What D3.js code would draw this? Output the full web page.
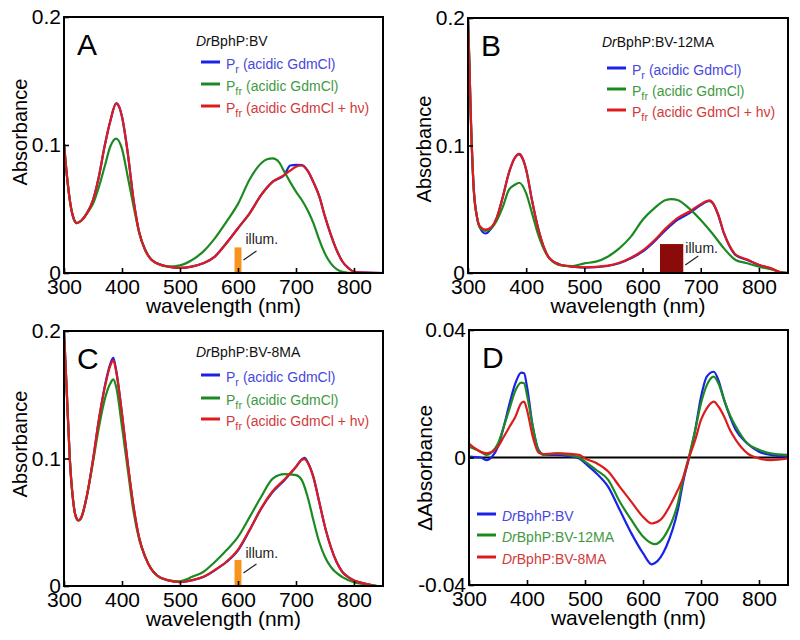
<!DOCTYPE html>
<html>
<head>
<meta charset="utf-8">
<script src="https://cdn.jsdelivr.net/npm/d3@7"></script>
<style>
  body { margin: 0; background: #fff; }
  svg { display: block; }
</style>
</head>
<body>
<div id="chart"></div>
<script>
// wavelength (nm), absorbance
const aPr = [[300,0.101],[305,0.076],[310,0.057],[315,0.045],[322,0.039],[330,0.041],[340,0.047],[350,0.057],[360,0.075],[370,0.099],[380,0.119],[390,0.1325],[395,0.130],[400,0.122],[410,0.0935],[420,0.057],[430,0.031],[440,0.018],[450,0.0107],[460,0.0076],[480,0.005],[500,0.004],[520,0.005],[540,0.0076],[560,0.0128],[575,0.0205],[600,0.035],[620,0.0466],[640,0.061],[660,0.0714],[680,0.0766],[690,0.084],[700,0.0845],[710,0.0843],[720,0.080],[730,0.071],[740,0.060],[750,0.044],[760,0.030],[770,0.018],[780,0.009],[790,0.004],[800,0.001],[820,0.0003],[850,0]];
const aPfr = [[300,0.101],[305,0.076],[310,0.057],[315,0.045],[322,0.039],[330,0.041],[340,0.047],[350,0.054],[360,0.067],[370,0.083],[380,0.099],[390,0.105],[400,0.097],[410,0.075],[420,0.052],[430,0.031],[440,0.018],[450,0.0107],[460,0.0076],[480,0.005],[500,0.006],[520,0.010],[540,0.0167],[560,0.027],[580,0.040],[600,0.054],[620,0.073],[640,0.0857],[650,0.0888],[660,0.0896],[670,0.087],[680,0.079],[690,0.071],[700,0.0635],[710,0.057],[720,0.049],[730,0.039],[740,0.026],[750,0.015],[760,0.0075],[770,0.003],[780,0.001],[800,0],[850,0]];
const aPfrHv = [[300,0.101],[305,0.076],[310,0.057],[315,0.045],[322,0.039],[330,0.041],[340,0.047],[350,0.057],[360,0.075],[370,0.099],[380,0.119],[390,0.1325],[395,0.130],[400,0.122],[410,0.0935],[420,0.057],[430,0.031],[440,0.018],[450,0.0107],[460,0.0076],[480,0.005],[500,0.004],[520,0.005],[540,0.0076],[560,0.0128],[575,0.0205],[600,0.035],[620,0.0466],[640,0.061],[660,0.0714],[680,0.0766],[690,0.080],[700,0.083],[710,0.084],[720,0.080],[730,0.071],[740,0.060],[750,0.044],[760,0.030],[770,0.018],[780,0.009],[790,0.004],[800,0.001],[820,0.0003],[850,0]];

const bPr = [[300,0.2],[302,0.17],[305,0.12],[310,0.065],[315,0.045],[320,0.036],[330,0.031],[340,0.035],[350,0.044],[360,0.060],[370,0.078],[380,0.090],[388,0.0933],[390,0.0925],[400,0.081],[410,0.057],[420,0.036],[430,0.0207],[440,0.0115],[460,0.0063],[480,0.005],[500,0.0042],[540,0.0055],[560,0.0076],[580,0.0115],[600,0.0167],[620,0.0246],[640,0.0337],[660,0.0416],[680,0.0468],[700,0.0533],[715,0.0565],[720,0.055],[730,0.0455],[740,0.031],[750,0.0207],[760,0.014],[780,0.0102],[800,0.0063],[820,0.0037],[840,0.0003],[850,0]];
const bPfr = [[300,0.2],[302,0.17],[305,0.12],[310,0.065],[315,0.045],[320,0.036],[330,0.033],[340,0.035],[350,0.0416],[360,0.052],[370,0.065],[380,0.069],[388,0.0708],[400,0.0625],[410,0.047],[420,0.031],[430,0.019],[440,0.0115],[460,0.006],[480,0.0055],[500,0.0076],[520,0.0089],[540,0.0128],[560,0.0193],[580,0.0285],[600,0.0416],[620,0.0507],[640,0.0573],[650,0.058],[660,0.0573],[680,0.0507],[700,0.0416],[720,0.031],[740,0.0193],[760,0.0102],[780,0.0076],[800,0.005],[820,0.003],[840,0.0005],[850,0]];
const bPfrHv = [[300,0.2],[302,0.17],[305,0.12],[310,0.065],[315,0.045],[320,0.037],[330,0.034],[340,0.036],[350,0.044],[360,0.060],[370,0.078],[380,0.090],[388,0.0935],[390,0.093],[400,0.081],[410,0.057],[420,0.036],[430,0.0207],[440,0.0115],[460,0.0063],[480,0.005],[500,0.0045],[540,0.0058],[560,0.008],[580,0.012],[600,0.0175],[620,0.0255],[640,0.035],[660,0.043],[680,0.048],[700,0.054],[715,0.057],[720,0.0555],[730,0.046],[740,0.031],[750,0.021],[760,0.0145],[780,0.0105],[800,0.0065],[820,0.0038],[840,0.0003],[850,0]];

const cPr = [[300,0.2],[305,0.15],[310,0.1],[315,0.07],[320,0.055],[325,0.0515],[330,0.054],[340,0.072],[350,0.099],[360,0.130],[370,0.156],[380,0.1745],[385,0.179],[390,0.169],[400,0.135],[410,0.096],[420,0.062],[430,0.037],[440,0.0228],[450,0.0136],[460,0.0084],[480,0.0044],[500,0.0031],[520,0.0044],[540,0.007],[560,0.0123],[580,0.0188],[600,0.028],[620,0.0437],[640,0.0607],[660,0.0738],[680,0.083],[700,0.0934],[710,0.0994],[715,0.1005],[720,0.0973],[730,0.0856],[740,0.066],[750,0.0463],[760,0.0306],[770,0.0188],[780,0.011],[790,0.007],[800,0.0044],[820,0.0018],[840,0],[850,0]];
const cPfr = [[300,0.2],[305,0.15],[310,0.1],[315,0.07],[320,0.055],[325,0.0515],[330,0.054],[340,0.072],[350,0.097],[360,0.124],[370,0.146],[380,0.159],[385,0.162],[390,0.156],[400,0.125],[410,0.091],[420,0.058],[430,0.036],[440,0.0228],[450,0.0136],[460,0.0084],[480,0.0044],[500,0.0037],[510,0.005],[520,0.007],[540,0.011],[560,0.0188],[580,0.028],[600,0.0385],[620,0.054],[640,0.070],[660,0.0843],[680,0.0877],[700,0.0869],[710,0.083],[720,0.070],[730,0.0515],[740,0.0345],[750,0.0228],[760,0.015],[780,0.007],[800,0.003],[820,0.0013],[840,0],[850,0]];
const cPfrHv = [[300,0.2],[305,0.15],[310,0.1],[315,0.07],[320,0.055],[325,0.0515],[330,0.054],[340,0.072],[350,0.099],[360,0.130],[370,0.155],[380,0.173],[385,0.177],[390,0.168],[400,0.135],[410,0.096],[420,0.062],[430,0.037],[440,0.0228],[450,0.0136],[460,0.0084],[480,0.0044],[500,0.0031],[520,0.0046],[540,0.0072],[560,0.0126],[580,0.019],[600,0.0285],[620,0.044],[640,0.061],[660,0.0745],[680,0.0835],[700,0.0935],[710,0.099],[715,0.0995],[720,0.0968],[730,0.0852],[740,0.066],[750,0.0463],[760,0.0306],[770,0.0188],[780,0.011],[790,0.007],[800,0.0044],[820,0.0018],[840,0],[850,0]];

const dBV = [[300,0.0003],[320,0],[330,-0.0008],[340,0.0003],[350,0.0034],[360,0.0097],[370,0.017],[380,0.0233],[390,0.0266],[395,0.0264],[400,0.0222],[410,0.0097],[420,0.0024],[430,0.0008],[450,0.0008],[470,0.0005],[490,-0.0003],[500,-0.0018],[520,-0.005],[540,-0.0092],[560,-0.0165],[580,-0.0238],[600,-0.030],[615,-0.0335],[620,-0.0332],[640,-0.028],[660,-0.0165],[670,-0.007],[680,0.0003],[690,0.0086],[700,0.019],[710,0.0254],[722,0.0269],[730,0.0243],[740,0.018],[750,0.0128],[760,0.0086],[780,0.0044],[800,0.0018],[820,0.0008],[850,0.0003]];
const dBV12 = [[300,0.0034],[320,0.0018],[330,0.0008],[340,0.0018],[350,0.0044],[360,0.0097],[370,0.0154],[380,0.021],[390,0.0235],[395,0.0233],[400,0.0196],[410,0.0097],[420,0.0021],[430,0.0008],[450,0.0013],[470,0.0008],[490,0],[500,-0.0013],[520,-0.004],[540,-0.007],[560,-0.0139],[580,-0.0196],[600,-0.0248],[620,-0.0272],[640,-0.0238],[660,-0.0144],[670,-0.006],[680,0.0008],[690,0.0086],[700,0.017],[710,0.0227],[722,0.0254],[730,0.0233],[740,0.018],[750,0.0133],[760,0.0097],[780,0.0044],[800,0.0024],[820,0.0013],[850,0.0008]];
const dBV8 = [[300,0.0044],[310,0.0029],[330,0.0013],[340,0.0018],[350,0.0034],[360,0.0065],[370,0.0097],[380,0.0128],[390,0.017],[395,0.0175],[400,0.0149],[410,0.0065],[420,0.0015],[430,0.0011],[460,0.0013],[490,0.0008],[500,-0.0003],[520,-0.0018],[540,-0.0044],[560,-0.0092],[580,-0.0139],[600,-0.0186],[615,-0.0207],[630,-0.0196],[650,-0.0139],[660,-0.0102],[670,-0.006],[680,0.0003],[690,0.0055],[700,0.0118],[710,0.0154],[722,0.0175],[730,0.016],[740,0.0128],[750,0.0086],[760,0.0055],[780,0.0013],[800,-0.0003],[820,-0.0008],[850,-0.0003]];

const xTicks = [300, 400, 500, 600, 700, 800];
const absTicks = [0, 0.1, 0.2];
const diffTicks = [-0.04, 0, 0.04];
const stateLabels = [["P", "r", " (acidic GdmCl)"], ["P", "fr", " (acidic GdmCl)"], ["P", "fr", " (acidic GdmCl + h\u03BD)"]];
const sampleLabels = ["BphP:BV", "BphP:BV-12MA", "BphP:BV-8MA"];
const illumA = [594, 606, 0.02];
const illumB = [630, 670, 0.0227];
const illumC = [594, 606, 0.0204];

const lineColors = ["#1a22e6", "#1c8a22", "#dc1c1c"];
const textColors = ["#4747dd", "#3f9a3f", "#d23a3a"];
const font = "'Liberation Sans', Arial, Helvetica, sans-serif";

const svg = d3.select("#chart").append("svg")
  .attr("width", 800).attr("height", 640)
  .style("font-family", font);
svg.append("rect").attr("width", 800).attr("height", 640).attr("fill", "#fff");

let clipId = 0;
function drawPanel(cfg) {
  const x = d3.scaleLinear().domain([300, 850]).range([cfg.left, cfg.right]);
  const y = d3.scaleLinear().domain(cfg.yDomain).range([cfg.bottom, cfg.top]);
  const g = svg.append("g");

  const cid = "clip" + (clipId++);
  g.append("clipPath").attr("id", cid).append("rect")
    .attr("x", cfg.left).attr("y", cfg.top)
    .attr("width", cfg.right - cfg.left).attr("height", cfg.bottom - cfg.top);

  // illumination band
  if (cfg.illum) {
    const [w0, w1, h] = cfg.illum;
    g.append("rect")
      .attr("x", x(w0)).attr("y", y(h))
      .attr("width", x(w1) - x(w0)).attr("height", y(0) - y(h))
      .attr("fill", cfg.illumColor);
    const lx = x(w1), ly = y(h);
    g.append("line")
      .attr("x1", lx + 2).attr("y1", y(0) - 8 - cfg.illumLead)
      .attr("x2", lx + 15).attr("y2", y(0) - 17 - cfg.illumLead)
      .attr("stroke", "#222").attr("stroke-width", 1.2);
    g.append("text")
      .attr("x", lx + cfg.illumDx).attr("y", ly + cfg.illumDy)
      .attr("font-size", "14px").attr("fill", "#222")
      .text("illum.");
  }

  if (cfg.zeroLine) {
    g.append("line")
      .attr("x1", cfg.left).attr("x2", cfg.right)
      .attr("y1", y(0)).attr("y2", y(0))
      .attr("stroke", "#000").attr("stroke-width", 2);
  }

  const line = d3.line()
    .x(d => x(d[0])).y(d => y(d[1]))
    .curve(d3.curveMonotoneX);
  cfg.series.forEach((s, i) => {
    g.append("path").datum(s)
      .attr("clip-path", `url(#${cid})`)
      .attr("fill", "none")
      .attr("stroke", lineColors[i])
      .attr("stroke-width", 2.2)
      .attr("stroke-linejoin", "round")
      .attr("d", line);
  });

  // axes with inward ticks
  const xa = g.append("g")
    .attr("transform", `translate(0,${cfg.bottom})`)
    .call(d3.axisBottom(x).tickValues(xTicks).tickSizeInner(-5).tickSizeOuter(0).tickPadding(6));
  const ya = g.append("g")
    .attr("transform", `translate(${cfg.left},0)`)
    .call(d3.axisLeft(y).tickValues(cfg.yTicks).tickSizeInner(-5).tickSizeOuter(0).tickPadding(3)
      .tickFormat(d => d === 0 ? "0" : String(d)));
  [xa, ya].forEach(a => {
    a.select(".domain").remove();
    a.selectAll(".tick line").attr("stroke", "#000").attr("stroke-width", 1.6);
    a.selectAll(".tick text").attr("font-size", "21px").attr("fill", "#000").attr("font-family", font);
  });

  g.append("rect")
    .attr("x", cfg.left).attr("y", cfg.top)
    .attr("width", cfg.right - cfg.left).attr("height", cfg.bottom - cfg.top)
    .attr("fill", "none").attr("stroke", "#000").attr("stroke-width", 2);

  g.append("text")
    .attr("x", (cfg.left + cfg.right) / 2).attr("y", cfg.bottom + 40)
    .attr("text-anchor", "middle").attr("font-size", "21px")
    .text("wavelength (nm)");

  g.append("text")
    .attr("transform", `translate(${cfg.left - 37},${cfg.yLabelY}) rotate(-90)`)
    .attr("text-anchor", "middle").attr("font-size", cfg.yLabelSize || "20px")
    .text(cfg.yLabel);

  g.append("text")
    .attr("x", cfg.left + 13).attr("y", cfg.top + 38)
    .attr("font-size", "30px")
    .text(cfg.letter);

  // legend
  const lg = cfg.legend;
  if (lg.title) {
    const t = g.append("text").attr("x", lg.x - 5).attr("y", lg.titleY).attr("font-size", "14px").attr("fill", "#111");
    t.append("tspan").attr("font-style", "italic").text("Dr");
    t.append("tspan").text(lg.title);
  }
  lg.rows.forEach((ry, i) => {
    g.append("line")
      .attr("x1", lg.x).attr("x2", lg.x + 19)
      .attr("y1", ry).attr("y2", ry)
      .attr("stroke", lineColors[i]).attr("stroke-width", 3);
    const t = g.append("text")
      .attr("x", lg.x + 25).attr("y", ry + 7)
      .attr("font-size", "14px").attr("fill", textColors[i]);
    if (lg.kind === "state") {
      const [m, sub, rest] = stateLabels[i];
      t.append("tspan").text(m);
      t.append("tspan").attr("dy", 4).attr("font-size", "11px").text(sub);
      t.append("tspan").attr("dy", -4).text(rest);
    } else {
      t.append("tspan").attr("font-style", "italic").text("Dr");
      t.append("tspan").text(sampleLabels[i]);
    }
  });
}

drawPanel({
  left: 64, right: 383, top: 17, bottom: 273,
  yDomain: [0, 0.2], yTicks: absTicks, yLabel: "Absorbance", yLabelY: 132,
  letter: "A", series: [aPr, aPfr, aPfrHv],
  illum: illumA, illumColor: "#f7941d", illumDx: 4, illumDy: -3, illumLead: 5,
  legend: { kind: "state", x: 201, titleY: 46, title: "BphP:BV", rows: [62, 84, 106] }
});
drawPanel({
  left: 468, right: 788, top: 18, bottom: 273,
  yDomain: [0, 0.2], yTicks: absTicks, yLabel: "Absorbance", yLabelY: 149,
  letter: "B", series: [bPr, bPfr, bPfrHv],
  illum: illumB, illumColor: "#8b0a0a", illumDx: 2, illumDy: 9, illumLead: 0,
  legend: { kind: "state", x: 607, titleY: 47, title: "BphP:BV-12MA", rows: [68, 89, 110] }
});
drawPanel({
  left: 64, right: 383, top: 331, bottom: 586,
  yDomain: [0, 0.2], yTicks: absTicks, yLabel: "Absorbance", yLabelY: 444,
  letter: "C", series: [cPr, cPfr, cPfrHv],
  illum: illumC, illumColor: "#f7941d", illumDx: 4, illumDy: -2, illumLead: 5,
  legend: { kind: "state", x: 201, titleY: 357, title: "BphP:BV-8MA", rows: [375, 398, 419] }
});
drawPanel({
  left: 469, right: 788, top: 330, bottom: 585,
  yDomain: [-0.04, 0.04], yTicks: diffTicks, yLabel: "\u0394Absorbance", yLabelY: 468, yLabelSize: "21px",
  letter: "D", series: [dBV, dBV12, dBV8], zeroLine: true,
  legend: { kind: "sample", x: 477, rows: [514, 535, 557] }
});
</script>
</body>
</html>
